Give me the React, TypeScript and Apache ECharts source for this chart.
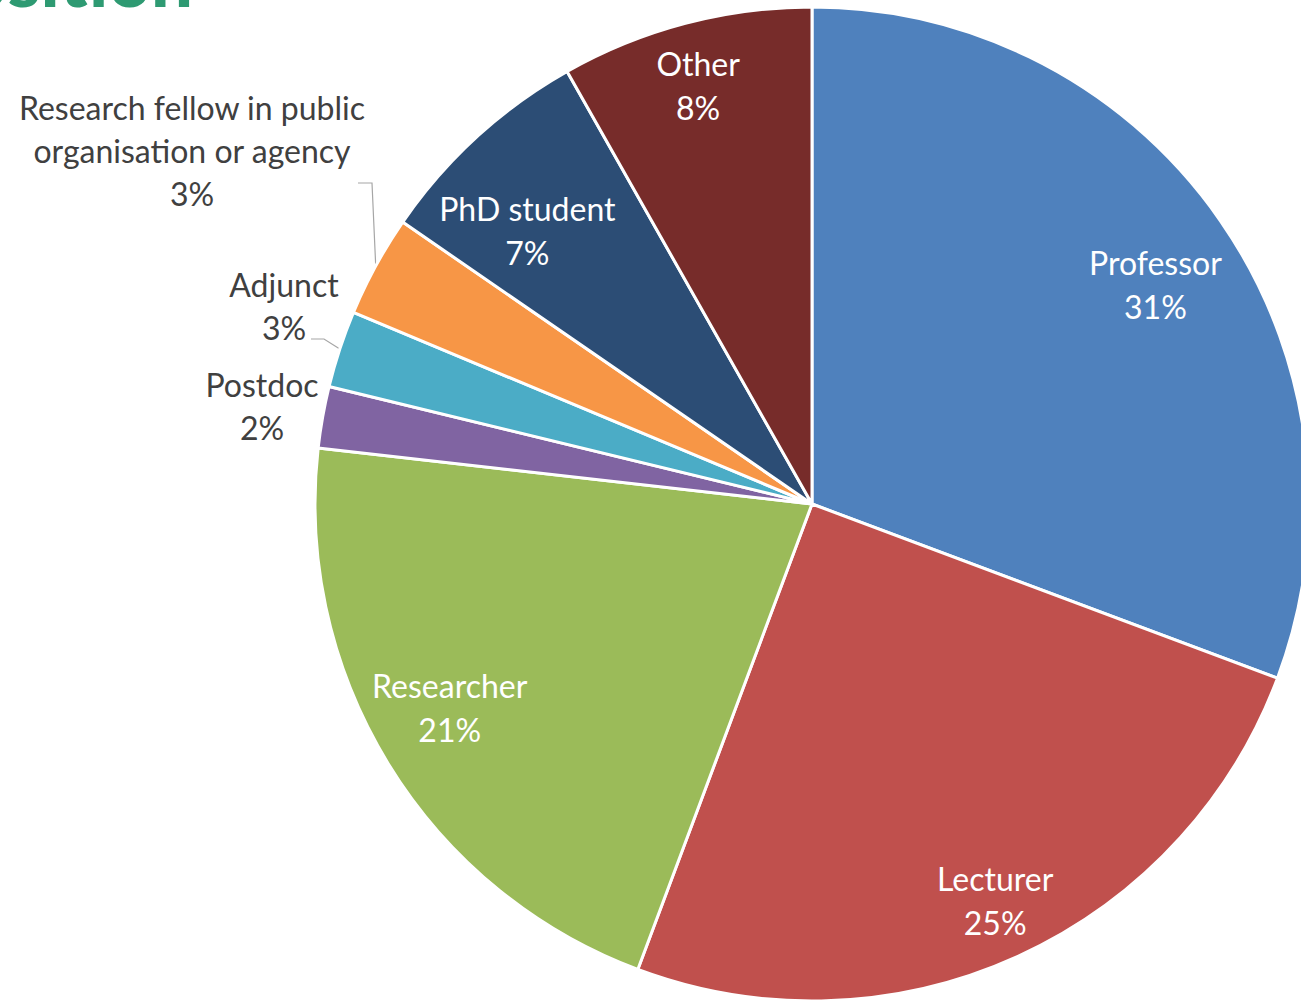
import React, { useEffect, useRef } from "react";
import * as echarts from "echarts";

const categories = [
  "Professor",
  "Lecturer",
  "Researcher",
  "Postdoc",
  "Adjunct",
  "Research fellow in public\norganisation or agency",
  "PhD student",
  "Other",
];
const values = [30.7, 25.0, 21.1, 2.0, 2.5, 3.3, 7.2, 8.2];
const colors = ["#4F81BD", "#C0504D", "#9BBB59", "#8064A2", "#4BACC6", "#F79646", "#2C4D75", "#772C2A"];
const outsideIdx = [3, 4, 5];

const FONT = "Lato";

export default function App() {
  const ref = useRef<HTMLDivElement>(null);
  useEffect(() => {
    if (!ref.current) return;
    const chart = echarts.init(ref.current, null, { renderer: "svg" });
    const cx = 812, cy = 504, R = 497;
    const outerData = categories.map((name, i) => ({
      name,
      value: values[i],
      itemStyle: { color: colors[i] },
      label: { show: outsideIdx.includes(i) },
      labelLine: { show: i === 4 || i === 5 },
    }));
    const innerData = categories.map((name, i) => ({
      name,
      value: values[i],
      label: { show: !outsideIdx.includes(i) },
    }));
    const outsidePos: Record<number, { x: number; y: number; line?: number[][] }> = {
      3: { x: 262, y: 406 },
      4: { x: 284, y: 306, line: [[324, 339], [311, 339]] },
      5: { x: 192, y: 150, line: [[372, 183], [358, 183]] },
    };
    const insideShift: Record<number, number[]> = {
      0: [2, 17],
      1: [11, 18],
      2: [-8, -14],
      6: [-4, 33],
      7: [-8, -17],
    };
    chart.setOption({
      animation: false,
      backgroundColor: "#ffffff",
      graphic: [
        {
          type: "text",
          x: 193,
          y: 15,
          style: {
            text: "Position",
            fill: "#2E9A72",
            font: `900 74px ${FONT}`,
            align: "right",
            verticalAlign: "bottom",
          },
        },
      ],
      series: [
        {
          type: "pie",
          center: [cx, cy],
          radius: R,
          startAngle: 90,
          clockwise: true,
          percentPrecision: 0,
          silent: true,
          itemStyle: { borderColor: "#ffffff", borderWidth: 3 },
          label: {
            position: "outside",
            formatter: "{b}\n{d}%",
            color: "#404040",
            fontFamily: FONT,
            fontSize: 32,
            lineHeight: 43,
            align: "center",
            overflow: "none",
            width: 400,
          },
          labelLine: { lineStyle: { color: "#A6A6A6", width: 1.2 }, length: 10, length2: 10 },
          labelLayout: (params: any) => {
            const p = outsidePos[params.dataIndex];
            if (!p) return {};
            const res: any = { x: p.x, y: p.y, align: "center", verticalAlign: "middle", hideOverlap: false };
            if (p.line && params.labelLinePoints) {
              res.labelLinePoints = [params.labelLinePoints[0], p.line[0], p.line[1]];
            }
            return res;
          },
          data: outerData,
        },
        {
          type: "pie",
          center: [cx, cy],
          radius: [R * 0.66, R],
          startAngle: 90,
          clockwise: true,
          percentPrecision: 0,
          silent: true,
          itemStyle: { color: "rgba(0,0,0,0)", borderWidth: 0 },
          label: {
            position: "inside",
            formatter: "{b}\n{d}%",
            color: "#ffffff",
            fontFamily: FONT,
            fontSize: 32,
            lineHeight: 44,
            align: "center",
          },
          labelLine: { show: false },
          labelLayout: (params: any) => {
            const s = insideShift[params.dataIndex];
            if (!s) return {};
            return { dx: s[0], dy: s[1], hideOverlap: false };
          },
          data: innerData,
        },
      ],
    });
    return () => chart.dispose();
  }, []);
  return (
    <div
      ref={ref}
      style={{ position: "fixed", left: 0, top: 0, width: 1301, height: 1002, background: "#fff" }}
    />
  );
}
